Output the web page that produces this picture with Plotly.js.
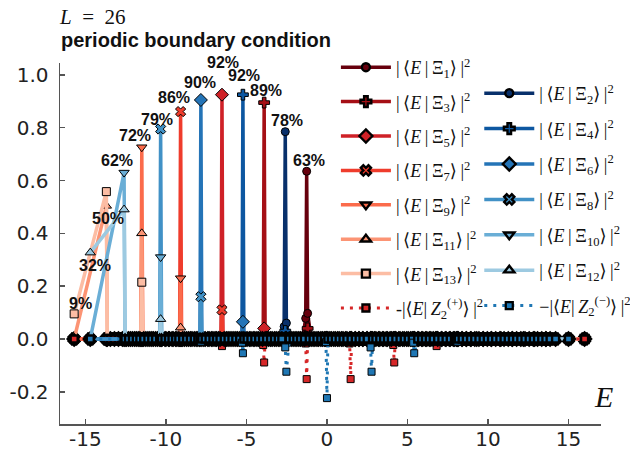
<!DOCTYPE html>
<html><head><meta charset="utf-8">
<script src="https://cdn.plot.ly/plotly-3.0.1.min.js"></script>
<style>html,body{margin:0;padding:0;background:#fff}#chart{width:630px;height:449px}</style>
</head><body><div id="chart"></div>
<script>
// eigen-energies of the two symmetry sectors
const energiesOdd = [-15.7, -13.7, -13.64, -13.45, -13.2, -12.95, -12.7, -12.45, -12.2, -11.95, -11.72, -11.56, -11.5, -11.44, -11.25, -11.0, -10.78, -10.52, -10.25, -10.0, -9.78, -9.55, -9.32, -9.15, -9.09, -9.03, -8.85, -8.6, -8.38, -8.12, -7.9, -7.65, -7.4, -7.18, -6.95, -6.74, -6.58, -6.52, -6.46, -6.25, -6.02, -5.78, -5.55, -5.3, -5.05, -4.82, -4.58, -4.35, -4.12, -3.96, -3.9, -3.84, -3.62, -3.4, -3.15, -2.92, -2.7, -2.45, -2.22, -1.98, -1.75, -1.52, -1.32, -1.26, -1.2, -0.98, -0.75, -0.52, -0.28, -0.05, 0.18, 0.42, 0.66, 0.9, 1.15, 1.41, 1.47, 1.53, 1.75, 1.98, 2.22, 2.48, 2.72, 2.95, 3.2, 3.45, 3.68, 3.92, 4.12, 4.18, 4.24, 4.46, 4.7, 4.95, 5.2, 5.45, 5.7, 5.95, 6.2, 6.45, 6.75, 6.81, 6.87, 7.1, 7.35, 7.6, 7.85, 8.1, 8.38, 8.65, 8.95, 9.3, 9.7, 10.2, 10.8, 11.5, 12.2, 12.9, 13.6, 16.0];
const energiesEven = [-14.7, -12.6, -12.54, -12.32, -12.08, -11.84, -11.62, -11.38, -11.12, -10.88, -10.64, -10.39, -10.33, -10.27, -10.06, -9.84, -9.62, -9.4, -9.2, -8.96, -8.72, -8.48, -8.24, -8.02, -7.89, -7.83, -7.77, -7.56, -7.32, -7.08, -6.86, -6.64, -6.38, -6.14, -5.9, -5.66, -5.42, -5.28, -5.22, -5.16, -4.96, -4.72, -4.48, -4.24, -4.0, -3.75, -3.5, -3.26, -3.02, -2.8, -2.59, -2.52, -2.34, -2.1, -1.87, -1.64, -1.4, -1.1, -0.86, -0.62, -0.38, -0.16, -0.06, 0.0, 0.06, 0.28, 0.52, 0.76, 1.0, 1.24, 1.5, 1.76, 2.0, 2.24, 2.5, 2.71, 2.77, 2.83, 3.04, 3.28, 3.52, 3.76, 4.0, 4.28, 4.54, 4.8, 5.05, 5.3, 5.36, 5.42, 5.64, 5.88, 6.12, 6.36, 6.6, 6.88, 7.14, 7.4, 7.66, 7.92, 8.04, 8.1, 8.16, 8.4, 8.66, 8.92, 9.18, 9.44, 9.7, 9.96, 10.22, 10.48, 10.74, 11.0, 11.26, 11.52, 11.78, 12.04, 12.3, 12.56, 12.82, 13.08, 13.34, 13.6, 13.86, 14.2, 15.0];

// non-zero overlaps per state (energy, value); all other eigenstates ~0
const xi1E = [-1.32, -1.26, -1.2];   const xi1V = [0.078, 0.635, 0.097];
const xi3E = [-3.9, -1.2];           const xi3V = [0.895, 0.04];
const xi5E = [-6.52, -3.9];          const xi5V = [0.925, 0.04];
const xi7E = [-9.09, -6.52];         const xi7V = [0.861, 0.11];
const xi9E = [-11.5, -9.09];         const xi9V = [0.726, 0.23];
const xi11E = [-13.7, -11.5, -9.09]; const xi11V = [0.504, 0.40, 0.043];
const xi13E = [-15.7, -13.7, -11.5]; const xi13V = [0.095, 0.558, 0.215];
const zPlusE = [-6.52, -3.96, -3.9, -1.32, -1.26, 1.41, 1.47, 4.12, 4.18, 6.81];
const zPlusV = [-0.027, -0.023, -0.089, -0.017, -0.152, -0.017, -0.152, -0.023, -0.089, -0.027];
const xi2E = [-2.66, -2.59, -2.52];  const xi2V = [0.047, 0.785, 0.06];
const xi4E = [-5.22, -2.59];         const xi4V = [0.925, 0.03];
const xi6E = [-7.83, -5.22];         const xi6V = [0.905, 0.065];
const xi8E = [-10.33, -7.83];        const xi8V = [0.795, 0.16];
const xi10E = [-12.6, -10.33];       const xi10V = [0.63, 0.31];
const xi12E = [-14.7, -12.6, -10.33];const xi12V = [0.327, 0.49, 0.075];
const zMinusE = [-7.83, -5.28, -5.22, -2.59, -2.52, -0.06, 0.0, 2.71, 2.77, 5.36, 5.42, 8.1];
const zMinusV = [-0.01, -0.014, -0.054, -0.032, -0.124, -0.012, -0.224, -0.032, -0.124, -0.014, -0.054, -0.01];

// percentage labels and the energy of the point each one marks
const pctLabels = ['63%','89%','92%','86%','72%','50%','9%','', '78%','92%','90%','79%','62%','32%',''];
const pctAtE = [-1.26, -3.9, -6.52, -9.09, -11.5, -13.7, -15.7, null, -2.59, -5.22, -7.83, -10.33, -12.6, -14.7, null];
const xTickVals = [-15,-10,-5,0,5,10,15];
const xTickText = ['-15','-10','-5','0','5','10','15'];
const yTickVals = [-0.2,0,0.2,0.4,0.6,0.8,1.0];
const yTickText = ['-0.2','0.0','0.2','0.4','0.6','0.8','1.0'];

const S = '\u2009';
const xiName = n => '|' + S + '⟨<i>E</i>' + S + '|' + S + 'Ξ<sub>' + n + '</sub>⟩' + S + '|<sup>2</sup>';
const zName = (pre, sg) => pre + '|⟨<i>E</i>|' + S + '<i>Z</i><sub>2</sub><sup>(' + sg + ')</sup>⟩' + S + '|<sup>2</sup>';
const series = [
  {name: xiName(1), bg: energiesOdd, E: xi1E, V: xi1V, color:'#67000d', sym:'circle', size:8, lg:'legend'},
  {name: xiName(3), bg: energiesOdd, E: xi3E, V: xi3V, color:'#a50f15', sym:'cross', size:9, lg:'legend'},
  {name: xiName(5), bg: energiesOdd, E: xi5E, V: xi5V, color:'#cf2127', sym:'diamond', size:10, lg:'legend'},
  {name: xiName(7), bg: energiesOdd, E: xi7E, V: xi7V, color:'#ef3c2c', sym:'x', size:9, lg:'legend'},
  {name: xiName(9), bg: energiesOdd, E: xi9E, V: xi9V, color:'#fb6b4b', sym:'triangle-down', size:9, lg:'legend'},
  {name: xiName(11), bg: energiesOdd, E: xi11E, V: xi11V, color:'#fc9474', sym:'triangle-up', size:9, lg:'legend'},
  {name: xiName(13), bg: energiesOdd, E: xi13E, V: xi13V, color:'#fcbda4', sym:'square', size:8, lg:'legend'},
  {name: zName('-', '+'), bg: energiesOdd, E: zPlusE, V: zPlusV, color:'#d62728', sym:'square', size:7, lg:'legend', dotted:true},
  {name: xiName(2), bg: energiesEven, E: xi2E, V: xi2V, color:'#08306b', sym:'circle', size:8, lg:'legend2'},
  {name: xiName(4), bg: energiesEven, E: xi4E, V: xi4V, color:'#0d57a1', sym:'cross', size:9, lg:'legend2'},
  {name: xiName(6), bg: energiesEven, E: xi6E, V: xi6V, color:'#2474b7', sym:'diamond', size:10, lg:'legend2'},
  {name: xiName(8), bg: energiesEven, E: xi8E, V: xi8V, color:'#4191c6', sym:'x', size:9, lg:'legend2'},
  {name: xiName(10), bg: energiesEven, E: xi10E, V: xi10V, color:'#6aaed6', sym:'triangle-down', size:9, lg:'legend2'},
  {name: xiName(12), bg: energiesEven, E: xi12E, V: xi12V, color:'#9dcae1', sym:'triangle-up', size:9, lg:'legend2'},
  {name: zName('−', '−'), bg: energiesEven, E: zMinusE, V: zMinusV, color:'#1f77b4', sym:'square', size:7, lg:'legend2', dotted:true}
];

function build(bg, E, V) {
  const m = new Map();
  bg.forEach(e => m.set(e, 0));
  E.forEach((e, i) => m.set(e, V[i]));
  const xs = Array.from(m.keys()).sort((a, b) => a - b);
  return {x: xs, y: xs.map(e => m.get(e))};
}

const traces = series.map((s, i) => {
  const d = build(s.bg, s.E, s.V);
  return {
    type:'scatter', mode:'lines+markers', name:s.name, legend:s.lg, legendgroup:'g'+i,
    x:d.x, y:d.y, cliponaxis:false,
    line:{color:s.color, width:s.dotted?3:3.5, dash:s.dotted?'3px,6px':'solid'},
    marker:{symbol:s.sym, size:s.size, color:s.color,
            line:{color:'#000', width:d.y.map(v => v === 0 ? 2.4 : 1)}}
  };
});

const shifts = [[2,11],[2,12],[1,32],[-7,14],[-7,12],[2,-13],[6,10],[0,0],[2,11],[1,19],[-1,17],[-4,10],[-7,12],[5,-13],[0,0]];
const annotations = [];
series.forEach((s, i) => {
  if (!pctLabels[i]) return;
  const k = s.E.indexOf(pctAtE[i]);
  annotations.push({x:s.E[k], y:s.V[k], xref:'x', yref:'y', text:'<b>'+pctLabels[i]+'</b>', showarrow:false,
    xshift:shifts[i][0], yshift:shifts[i][1], font:{family:'Liberation Sans, Arial', size:16, color:'#111'}});
});
annotations.push({xref:'paper', yref:'paper', x:-0.006, y:1.128, xanchor:'left', yanchor:'middle', showarrow:false,
  text:'<i>L</i>\u2002=\u200226', font:{family:'Liberation Serif, DejaVu Serif', size:21, color:'#111'}});
annotations.push({xref:'paper', yref:'paper', x:-0.002, y:1.0637, xanchor:'left', yanchor:'middle', showarrow:false,
  text:'<b>periodic boundary condition</b>', font:{family:'Liberation Sans, Arial', size:20, color:'#111'}});
annotations.push({xref:'paper', yref:'paper', x:1.004, y:0.075, xanchor:'center', yanchor:'middle', showarrow:false,
  text:'<i>E</i>', font:{family:'Liberation Serif, DejaVu Serif', size:30, color:'#111'}});

const axisCommon = {showline:true, linecolor:'#555', linewidth:1.5, ticks:'inside', ticklen:5, tickwidth:1.5, tickcolor:'#555',
  showgrid:false, zeroline:false, tickfont:{family:'DejaVu Sans', size:20, color:'#222'}};
const legendCommon = {xanchor:'left', yanchor:'top', bgcolor:'rgba(0,0,0,0)', traceorder:'grouped', itemwidth:50,
  maxheight:449, font:{family:'Liberation Serif, DejaVu Serif', size:18, color:'#111'}};

const layout = {
  width:630, height:449, margin:{l:60, r:29, t:63, b:25, autoexpand:false},
  paper_bgcolor:'#fff', plot_bgcolor:'rgba(0,0,0,0)', showlegend:true,
  xaxis:Object.assign({range:[-16.58, 17.02], tickvals:xTickVals, ticktext:xTickText, ticklabelstandoff:-4}, axisCommon),
  yaxis:Object.assign({range:[-0.322, 1.045], tickvals:yTickVals, ticktext:yTickText, ticklabelstandoff:6}, axisCommon),
  legend:Object.assign({x:0.51, y:1.0388, tracegroupgap:8}, legendCommon),
  legend2:Object.assign({x:0.775, y:0.9668, tracegroupgap:9}, legendCommon),
  annotations:annotations
};
Plotly.newPlot('chart', traces, layout, {displayModeBar:false, staticPlot:true});
</script></body></html>
